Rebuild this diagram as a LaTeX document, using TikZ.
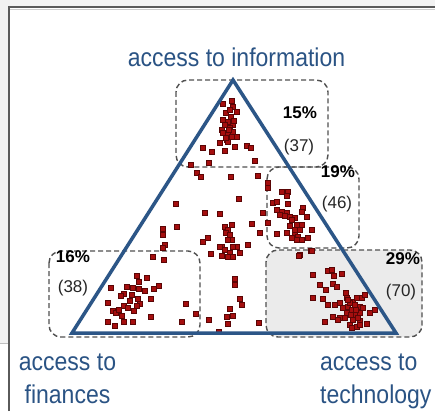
\documentclass[tikz,border=0pt]{standalone}
\usepackage{fontspec}
\usepackage{graphicx}
\setmainfont{Liberation Sans}
\definecolor{bggray}{HTML}{F2F2F2}
\definecolor{frame}{HTML}{5A5A5A}
\definecolor{triblue}{HTML}{2C5687}
\definecolor{lblue}{HTML}{2A5384}
\definecolor{boxfill}{HTML}{EBEBEB}
\definecolor{dotred}{HTML}{A50E0E}
\definecolor{dotedge}{HTML}{5A0505}
\newcommand{\tallsq}[1]{\scalebox{1}[1.12]{#1}}
\tikzset{
  dbox/.style={draw=frame!90!black, line width=1.4pt, dash pattern=on 5pt off 3pt, rounded corners=12pt},
  dotsq/.style={fill=dotred, draw=dotedge, line width=0.4pt},
  axislbl/.style={text=lblue, font=\fontsize{23}{28}\selectfont, inner sep=0pt},
  pct/.style={font=\fontsize{17}{20}\selectfont\bfseries, inner sep=0pt},
  cnt/.style={font=\fontsize{17}{20}\selectfont, text=black!85, inner sep=0pt}
}
\begin{document}
\begin{tikzpicture}[x=1pt,y=-1pt]
\useasboundingbox (0,0) rectangle (435,411);
% background
\fill[white] (0,0) rectangle (435,411);
\fill[bggray] (0,0) rectangle (435,7);
\fill[bggray] (0,0) rectangle (8,343);
\draw[black!25, line width=0.8pt] (0,343) -- (8,343);
\draw[frame, line width=2pt] (8.5,411) -- (8.5,7.5) -- (435,7.5);
\draw[black!20, line width=0.8pt] (10,9.5) -- (435,9.5);
% region boxes
\fill[boxfill, rounded corners=12pt] (266,250) rectangle (422,337);
\draw[dbox] (176,80) rectangle (328,167);
\draw[dbox] (267,167) rectangle (359,248);
\draw[dbox] (49,251) rectangle (200,337);
\draw[dbox] (266,250) rectangle (422,337);
% dots
\foreach \x/\y in {
223/104,232/101,233/107,237/112,226/113,231/117,223/120,228/122,233/125,225/125,
222/130,230/128,233/132,223/133,228/135,232/137,237/137,227/140,220/143,228/142,
235/147,225/151,212/152,203/148,247/146,251/148,255/161,209/163,191/165,197/173,
201/177,231/177,258/176,229/130,226/138,234/121,230/110,
268/183,268/188,282/192,288/192,287/196,273/203,277/202,288/204,277/210,282/212,
287/213,303/208,302/212,280/215,290/217,295/218,307/217,292/220,297/225,302/225,
300/230,295/230,312/230,287/233,277/234,295/235,298/237,292/238,297/240,302/240,
308/238,263/213,268/223,260/233,252/224,311/251,300/255,285/216,290/226,
176/204,239/199,205/213,220/214,177/227,163/229,163/235,165/245,163/248,225/227,
232/225,228/230,226/233,230/235,232/240,228/240,203/242,208/238,222/247,225/250,
237/247,230/253,228/257,240/253,248/245,153/257,164/260,211/254,222/256,233/257,
220/247,233/247,
137/276,147/278,139/282,111/288,127/287,133/288,139/289,145/291,154/289,159/286,
124/294,121/296,132/295,138/299,151/299,108/303,124/306,128/308,140/304,137/306,
134/311,113/311,116/313,122/316,186/304,196/314,151/317,108/322,115/326,124/322,
133/322,182/322,209/320,119/310,130/301,
235/279,235/285,240/299,242/305,230/309,233/316,227/317,228/324,219/332,259/323,
299/256,312/251,313/275,328/271,332/270,334/276,342/274,320/285,326/290,333/284,
337/287,313/298,323/299,328/305,335/305,340/303,346/293,347/298,343/308,348/307,
353/302,357/298,362/298,365/295,360/307,363/308,352/310,347/313,355/315,360/313,
370/313,375/310,333/317,340/318,353/320,360/321,325/322,350/325,357/327,360/325,
352/328,367/324,338/320,350/303,355/305,348/300,345/318,356/310,351/315,358/318}
  \filldraw[dotsq] (\x-2.6,\y-2.6) rectangle ++(5.2,5.2);
% triangle
\coordinate (A) at (233,80);
\coordinate (B) at (72,333);
\coordinate (C) at (396,333);
\draw[triblue, line width=3.5pt, line join=miter] (A) -- (B) -- (C) -- cycle;
% percentages
\node[pct] (p15) at (300,113) {15\%};
\node[cnt] (c37) at (299,147) {(37)};
\node[pct] (p19) at (338,172) {19\%};
\node[cnt] (c46) at (337,204) {(46)};
\node[pct] (p16) at (73,257) {16\%};
\node[cnt] (c38) at (73,288) {(38)};
\node[pct] (p29) at (403,259) {29\%};
\node[cnt] (c70) at (401,292) {(70)};
% axis labels
\node[axislbl, anchor=base] (info) at (236.5,67) {\tallsq{access to information}};
\node[axislbl, anchor=base] (finA) at (67.5,370) {\tallsq{access to}};
\node[axislbl, anchor=base] (finB) at (67.5,403) {\tallsq{finances}};
\node[axislbl, anchor=base west] (techA) at (320,370) {\tallsq{access to}};
\node[axislbl, anchor=base west] (techB) at (320,403) {\tallsq{technology}};
\end{tikzpicture}
\end{document}
